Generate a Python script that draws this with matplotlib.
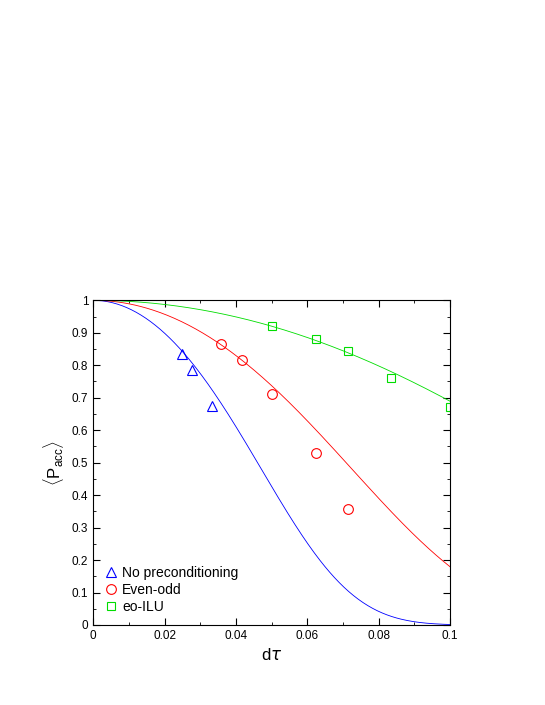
import math
import numpy as np
import matplotlib
matplotlib.use("Agg")
import matplotlib.pyplot as plt

plt.rcParams["font.family"] = ["Liberation Sans", "DejaVu Sans"]
plt.rcParams["mathtext.fontset"] = "custom"
plt.rcParams["mathtext.rm"] = "Liberation Sans"

# measured acceptance rates
dt_none = [0.025, 0.0278, 0.0333]
p_none = [0.835, 0.785, 0.675]
dt_eo = [0.0357, 0.0417, 0.05, 0.0625, 0.0714]
p_eo = [0.865, 0.815, 0.71, 0.53, 0.357]
dt_ilu = [0.05, 0.0625, 0.0714, 0.0833, 0.1]
p_ilu = [0.92, 0.88, 0.845, 0.76, 0.67]

# fit curves P = erfc(a * dtau^2)
fit_a = {"none": 225.0, "eo": 95.0, "ilu": 28.3}

x = np.linspace(0, 0.1, 300)
def fit(a):
    return np.array([math.erfc(a * v * v) for v in x])

fig = plt.figure(figsize=(5.45, 7.05), dpi=100)
ax = fig.add_axes([0.171, 0.1135, 0.655, 0.4605])

ax.plot(x, fit(fit_a["none"]), color="#0000ff", lw=0.6)
ax.plot(x, fit(fit_a["eo"]), color="#ff0000", lw=0.6)
ax.plot(x, fit(fit_a["ilu"]), color="#00dd00", lw=0.6)

ax.plot(dt_none, p_none, "^", mfc="none", mec="#0000ff", ms=7, mew=0.8, label="No preconditioning")
ax.plot(dt_eo, p_eo, "o", mfc="none", mec="#ff0000", ms=7, mew=0.8, label="Even-odd")
ax.plot(dt_ilu, p_ilu, "s", mfc="none", mec="#00dd00", ms=6, mew=0.8, label="eo-ILU")

ax.set_xlim(0, 0.1)
ax.set_ylim(0, 1)
ax.set_xticks([0, 0.02, 0.04, 0.06, 0.08, 0.1])
ax.set_xticklabels(["0", "0.02", "0.04", "0.06", "0.08", "0.1"])
ax.set_yticks(np.arange(0, 1.01, 0.1))
ax.set_yticklabels(["0", "0.1", "0.2", "0.3", "0.4", "0.5", "0.6", "0.7", "0.8", "0.9", "1"])
ax.set_xticks(np.arange(0, 0.101, 0.01), minor=True)
ax.set_yticks(np.arange(0, 1.01, 0.05), minor=True)
ax.tick_params(which="both", direction="in", top=True, right=True, labelsize=8.5)
ax.tick_params(which="major", length=5)
ax.tick_params(which="minor", length=2.5)

ax.set_xlabel(r"d$\tau$", fontsize=12)
ax.set_ylabel(r"$\langle$P$_{\rm acc}$$\rangle$", fontsize=12)

ax.legend(loc="lower left", frameon=False, fontsize=10, handletextpad=0.3,
          borderaxespad=0.4, labelspacing=0.2, handlelength=1.0)

fig.savefig("out.png", dpi=100)
